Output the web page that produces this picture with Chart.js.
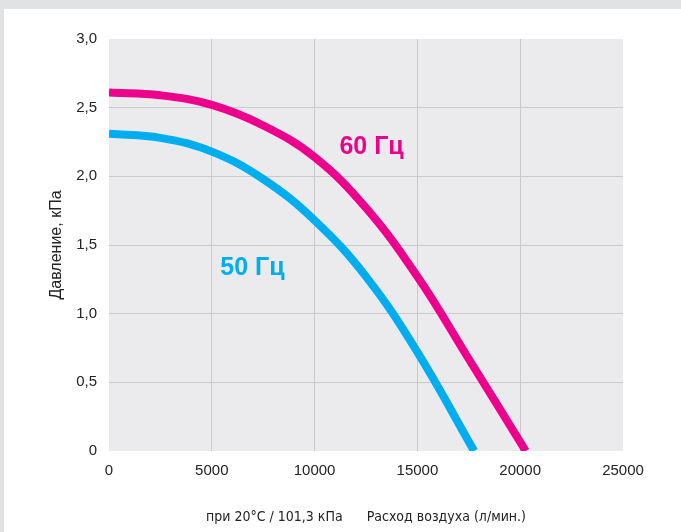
<!DOCTYPE html>
<html>
<head>
<meta charset="utf-8">
<script src="https://cdn.jsdelivr.net/npm/chart.js@4"></script>
<style>
    html, body { margin: 0; padding: 0; }
    body { background: #e1e2e4; width: 681px; height: 532px; overflow: hidden; }
    #wrap { position: absolute; left: 4px; top: 9px; width: 677px; height: 523px; background: #fff; }
</style>
</head>
<body>
<div id="wrap"><canvas id="fanChart"></canvas></div>
<script>
// Air flow (l/min) and pressure (kPa)
const flow60 = [0, 2500, 5000, 7500, 10000, 12500, 15000, 17500, 20270];
const pressure60 = [2.61, 2.59, 2.52, 2.37, 2.14, 1.77, 1.27, 0.67, 0];
const flow50 = [0, 2500, 5000, 7500, 10000, 12500, 15000, 17760];
const pressure50 = [2.31, 2.28, 2.18, 1.98, 1.68, 1.27, 0.72, 0];

const seriesNames = ['60 Гц', '50 Гц'];
const seriesColors = ['#ec008c', '#00aeef'];

const toPoints = (xs, ys) => xs.map((x, i) => ({ x: x, y: ys[i] }));

// light grey plot background
const plotBackground = {
    id: 'plotBackground',
    beforeDraw(chart) {
        const { ctx, chartArea } = chart;
        ctx.save();
        ctx.fillStyle = '#ebebee';
        ctx.fillRect(chartArea.left, chartArea.top, chartArea.right - chartArea.left, chartArea.bottom - chartArea.top);
        ctx.restore();
    }
};

// "60 Гц" / "50 Гц" labels next to the curves
const curveLabels = {
    id: 'curveLabels',
    afterDatasetsDraw(chart, args, opts) {
        const { ctx, scales } = chart;
        ctx.save();
        ctx.font = 'bold 25px "Liberation Sans", Arial, sans-serif';
        ctx.textAlign = 'center';
        ctx.textBaseline = 'middle';
        opts.items.forEach((item, i) => {
            ctx.fillStyle = seriesColors[i];
            ctx.fillText(seriesNames[i], scales.x.getPixelForValue(item.x), scales.y.getPixelForValue(item.y));
        });
        ctx.restore();
    }
};

const edgeHidden = (max) => (c) => (c.tick.value === 0 || c.tick.value === max) ? 'rgba(0,0,0,0)' : '#c9c9cb';

new Chart(document.getElementById('fanChart'), {
    type: 'line',
    data: {
        datasets: [
            {
                label: seriesNames[0],
                data: toPoints(flow60, pressure60),
                borderColor: seriesColors[0],
                borderWidth: 8,
                pointRadius: 0,
                tension: 0.4
            },
            {
                label: seriesNames[1],
                data: toPoints(flow50, pressure50),
                borderColor: seriesColors[1],
                borderWidth: 8,
                pointRadius: 0,
                tension: 0.4
            }
        ]
    },
    options: {
        responsive: true,
        maintainAspectRatio: false,
        animation: false,
        layout: { padding: { top: 30, right: 58, left: 0, bottom: 0 } },
        plugins: {
            legend: { display: false },
            tooltip: { enabled: false },
            curveLabels: { items: [{ x: 12770, y: 2.21 }, { x: 6980, y: 1.33 }] }
        },
        scales: {
            x: {
                type: 'linear',
                min: 0,
                max: 25000,
                ticks: {
                    stepSize: 5000,
                    padding: 11,
                    color: '#222',
                    font: { family: '"Liberation Sans", Arial, sans-serif', size: 15 },
                    callback: v => String(v)
                },
                grid: { color: edgeHidden(25000), drawTicks: false, lineWidth: 1 },
                border: { display: false },
                title: {
                    display: true,
                    text: 'при 20°C / 101,3 кПа      Расход воздуха (л/мин.)',
                    color: '#222',
                    font: { family: '"Liberation Sans Narrow", "DejaVu Sans Condensed", sans-serif', size: 14 },
                    padding: { top: 0, bottom: 6 }
                },
                afterFit: scale => { scale.height = 81; }
            },
            y: {
                min: 0,
                max: 3,
                ticks: {
                    stepSize: 0.5,
                    padding: 12,
                    color: '#222',
                    font: { family: '"Liberation Sans", Arial, sans-serif', size: 15 },
                    callback: v => v === 0 ? '0' : v.toFixed(1).replace('.', ',')
                },
                grid: { color: edgeHidden(3), drawTicks: false, lineWidth: 1 },
                border: { display: false },
                title: {
                    display: true,
                    text: 'Давление, кПа',
                    color: '#222',
                    font: { family: '"Liberation Sans", Arial, sans-serif', size: 16 },
                    padding: { top: 43, bottom: 0 }
                },
                afterFit: scale => { scale.width = 105; }
            }
        }
    },
    plugins: [plotBackground, curveLabels]
});
</script>
</body>
</html>
